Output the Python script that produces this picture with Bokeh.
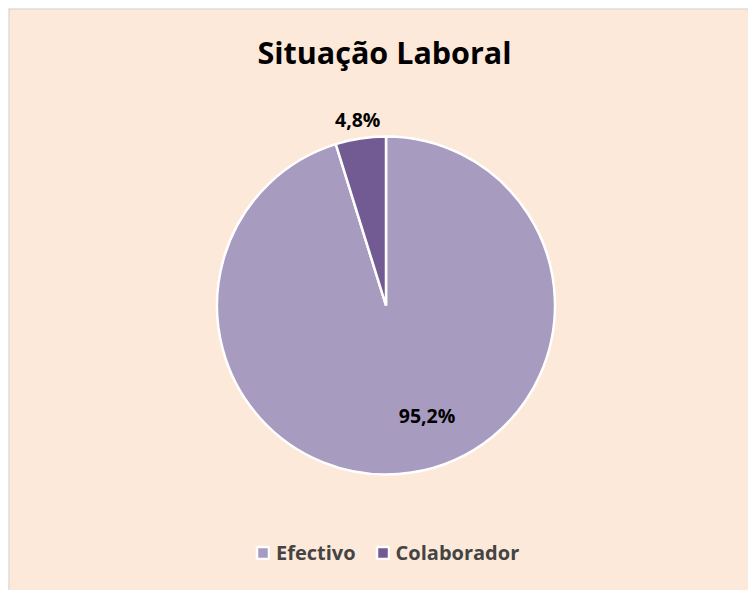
import numpy as np
from bokeh.plotting import figure
from bokeh.models import ColumnDataSource, Range1d, Legend, LegendItem, Span
from bokeh.core.properties import value
from bokeh.embed import file_html
from bokeh.resources import INLINE

# ---- data ----
categories = ["Efectivo", "Colaborador"]
shares = [95.2, 4.8]
labels = ["95,2%", "4,8%"]
colors = ["#A89BC0", "#725A92"]
title_text = "Situação Laboral"

FW, FH = 740, 582          # chart area size
ML, MT = 8, 8              # outer offset
BG = "#FDE9D9"
FONT = "Open Sans"

p = figure(width=FW + ML, height=FH + MT, output_backend="svg", toolbar_location=None,
           x_range=Range1d(0, FW), y_range=Range1d(0, FH),
           min_border_left=ML, min_border_top=MT, min_border_right=0, min_border_bottom=0)
p.xaxis.visible = False
p.yaxis.visible = False
p.grid.visible = False
p.background_fill_color = BG
p.border_fill_color = "white"
p.outline_line_color = None

# chart frame border (only top and left visible in window)
p.add_layout(Span(location=0, dimension="height", line_color="#D3D3D3", line_width=2))
p.add_layout(Span(location=FH, dimension="width", line_color="#D3D3D3", line_width=2))

cx, cy, r = 377.5, 285, 169

# Excel style: first slice starts at 12 o'clock going clockwise
fr = np.array(shares) / sum(shares)
cum = np.concatenate([[0], np.cumsum(fr)])
start_cw = np.pi / 2 - cum[:-1] * 2 * np.pi
end_cw = np.pi / 2 - cum[1:] * 2 * np.pi
mid = (start_cw + end_cw) / 2

src = ColumnDataSource(dict(cat=categories, start=end_cw, end=start_cw, color=colors))
wr = p.wedge(x=cx, y=cy, radius=r, start_angle="start", end_angle="end",
             fill_color="color", line_color="white", line_width=2.5, source=src)

# labels: inner for the big slice, outside for small slice
rad_f = [0.66, 1.115]
align = ["left", "center"]
for i in range(len(categories)):
    lx = cx + r * rad_f[i] * np.cos(mid[i]) - (4 if align[i] == "left" else 0)
    ly = cy + r * rad_f[i] * np.sin(mid[i])
    p.text(x=[lx], y=[ly], text=[labels[i]], text_font=value(FONT),
           text_font_style="bold", text_font_size="19.5px", text_align=align[i],
           text_baseline="middle", text_color="#000000")

p.text(x=[cx - 1.5], y=[FH - 43], text=[title_text], text_font=value(FONT),
       text_font_style="bold", text_font_size="30.5px", text_align="center",
       text_baseline="middle", text_color="#000000")

items = [LegendItem(label=categories[i], renderers=[wr], index=i) for i in range(len(categories))]
legend = Legend(items=items, orientation="horizontal", location=(243, 20),
                background_fill_alpha=0, border_line_alpha=0,
                label_text_font=FONT, label_text_font_style="bold",
                label_text_font_size="20px", glyph_width=15, glyph_height=15,
                label_standoff=6, spacing=19, padding=4, margin=0)
p.add_layout(legend, "center")

open("out.html", "w").write(file_html(p, INLINE))
